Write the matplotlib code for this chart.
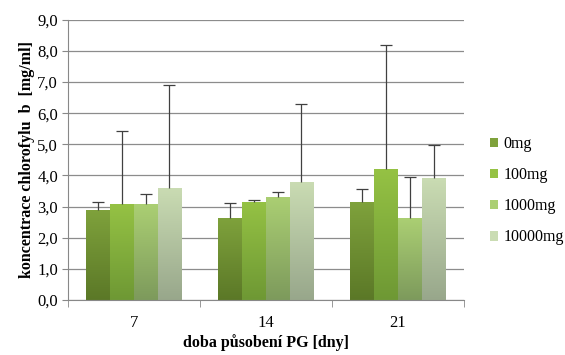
import numpy as np
import matplotlib
matplotlib.use('Agg')
import matplotlib.pyplot as plt
from matplotlib.colors import LinearSegmentedColormap

plt.rcParams['font.family'] = ['Liberation Serif', 'DejaVu Serif']

# data
days = ['7', '14', '21']
doses = ['0mg', '100mg', '1000mg', '10000mg']
values = {
    '0mg': [2.90, 2.65, 3.15],
    '100mg': [3.07, 3.15, 4.20],
    '1000mg': [3.07, 3.32, 2.62],
    '10000mg': [3.60, 3.80, 3.92],
}
err_top = {
    '0mg': [3.15, 3.10, 3.55],
    '100mg': [5.43, 3.22, 8.20],
    '1000mg': [3.40, 3.48, 3.95],
    '10000mg': [6.90, 6.30, 4.97],
}

# top colour, bottom colour for the gradient
colors = {
    '0mg': ('#7fa23c', '#5b7827'),
    '100mg': ('#95c244', '#6e9834'),
    '1000mg': ('#abcf73', '#7d9a5c'),
    '10000mg': ('#cadcb3', '#98a78b'),
}

fig = plt.figure(figsize=(5.65, 3.55), dpi=100)
ax = fig.add_axes([0.120, 0.155, 0.701, 0.789])

x = np.arange(len(days))
w = 0.18
grad = np.linspace(1, 0, 256).reshape(-1, 1)
for i, d in enumerate(doses):
    pos = x + (i - 1.5) * w
    bars = ax.bar(pos, values[d], w, color=colors[d][0], label=d, zorder=2)
    cmap = LinearSegmentedColormap.from_list(d, [colors[d][1], colors[d][0]])
    for b in bars:
        bx, by = b.get_x(), b.get_y()
        im = ax.imshow(grad, cmap=cmap, aspect='auto', zorder=2.1,
                       extent=[bx, bx + b.get_width(), by, by + b.get_height()],
                       origin='upper')
        im.set_clip_path(b)
    # only the upper half of the error bar, cap on top
    ax.vlines(pos, values[d], err_top[d], color='#404040', linewidth=0.9, zorder=3)
    ax.plot(pos, err_top[d], ls='none', marker='_', ms=8, mew=0.9, color='#404040', zorder=3)

ax.set_xlim(-0.5, 2.5)
ax.set_ylim(0, 9)
ax.set_yticks(np.arange(0, 9.1, 1))
ax.set_yticklabels([f'{v:.1f}'.replace('.', ',') for v in np.arange(0, 9.1, 1)], fontsize=12)
ax.set_xticks(x)
ax.set_xticklabels(days, fontsize=12)
ax.set_xticks([-0.5, 0.5, 1.5, 2.5], minor=True)
ax.tick_params(axis='x', which='major', length=0, pad=11)
ax.tick_params(axis='x', which='minor', length=5, color='#888888')
ax.tick_params(axis='y', length=4, color='#888888', pad=3)
ax.yaxis.grid(True, color='#8c8c8c', linewidth=0.9, zorder=0)
ax.set_axisbelow(True)
for s in ['top', 'right']:
    ax.spines[s].set_visible(False)
for s in ['left', 'bottom']:
    ax.spines[s].set_color('#888888')

ax.set_xlabel('doba působení PG [dny]', fontsize=11.5, fontweight='bold', labelpad=2)
ax.set_ylabel('koncentrace chlorofylu  b  [mg/ml]', fontsize=11.5, fontweight='bold', labelpad=2)

ax.legend(loc='center left', bbox_to_anchor=(1.065, 0.39), frameon=False, fontsize=11.5,
          borderpad=0, borderaxespad=0,
          handlelength=0.55, handleheight=0.55, handletextpad=0.3, labelspacing=0.95)

fig.savefig('out.png', dpi=100)
